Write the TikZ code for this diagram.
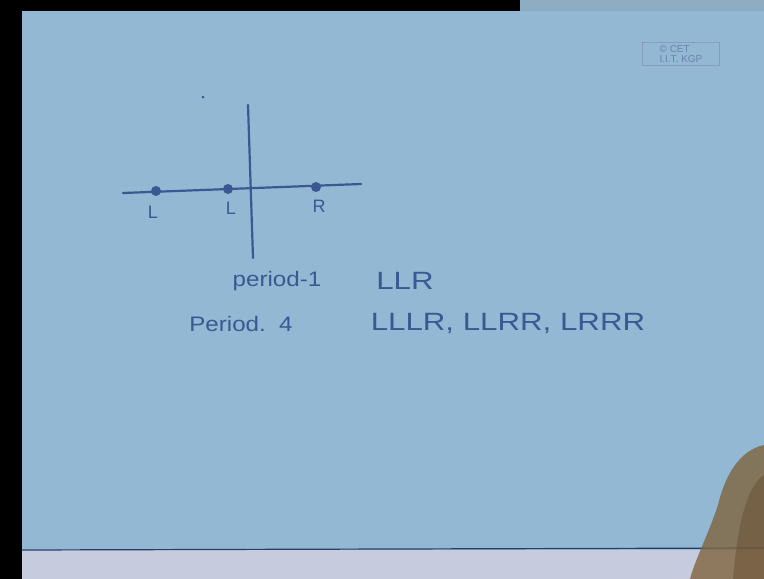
\documentclass[tikz,border=0pt]{standalone}
\usepackage{fontspec}
\setmainfont{Liberation Sans}
\usetikzlibrary{shapes.geometric}
\definecolor{paper}{RGB}{146,184,212}
\definecolor{ink}{RGB}{58,88,146}
\definecolor{lowstrip}{RGB}{198,204,222}
\definecolor{handc}{RGB}{128,100,62}
\tikzset{
  axis/.style={draw=ink, line width=2.2pt, line cap=round},
  pt/.style={circle, fill=ink, inner sep=0pt, minimum size=10pt},
  hwlow/.style={text=ink, font=\fontsize{21}{24}\selectfont, inner sep=0pt, xscale=1.15},
  hwcap/.style={text=ink, font=\fontsize{25}{28}\selectfont, inner sep=0pt, xscale=1.25},
  lbl/.style={text=ink, font=\fontsize{18}{20}\selectfont, inner sep=0pt}
}
\begin{document}
\begin{tikzpicture}[x=1pt,y=-1pt]
\useasboundingbox (0,0) rectangle (764,579);
% background
\fill[black] (0,0) rectangle (764,579);
\fill[lowstrip] (22,550) rectangle (764,579);
\fill[paper] (22,11) rectangle (764,550);
\fill[paper!80!gray] (520,0) rectangle (764,11);
\draw[ink!70!black, line width=1.2pt] (22,550) -- (764,548);
% hand
\fill[handc, opacity=0.8] (764,445) .. controls (740,450) and (725,475) .. (718,505)
  .. controls (708,535) and (695,560) .. (690,579) -- (764,579) -- cycle;
\fill[handc!80!black, opacity=0.5] (764,475) .. controls (748,485) and (738,520) .. (733,579) -- (764,579) -- cycle;
% stamp
\node[draw=ink!60, line width=0.8pt, minimum width=77pt, minimum height=23pt, inner sep=1pt,
      text=ink!75, font=\fontsize{10}{10}\selectfont, align=left] (stamp) at (681,54) {© CET\\I.I.T. KGP};
% axes
\coordinate (hl) at (123,193);
\coordinate (hr) at (361,184);
\coordinate (vt) at (248,105);
\coordinate (vb) at (253,258);
\draw[axis] (hl) -- (hr);
\draw[axis] (vt) -- (vb);
\node[circle, fill=ink, inner sep=0pt, minimum size=3pt] (speck) at (203,97) {};
% points
\node[pt] (p1) at (156,191) {};
\node[pt] (p2) at (228,189) {};
\node[pt] (p3) at (316,187) {};
\node[lbl] (l1) at (153,212) {L};
\node[lbl] (l2) at (231,208) {L};
\node[lbl] (l3) at (319,206) {R};
% text
\node[hwlow] (per1) at (277,281) {period-1};
\node[hwcap] (seq1) at (405,281) {LLR};
\node[hwlow] (per4) at (241,324) {Period.\ \ 4};
\node[hwcap] (seq4) at (508,323) {LLLR, LLRR, LRRR};
\end{tikzpicture}
\end{document}
